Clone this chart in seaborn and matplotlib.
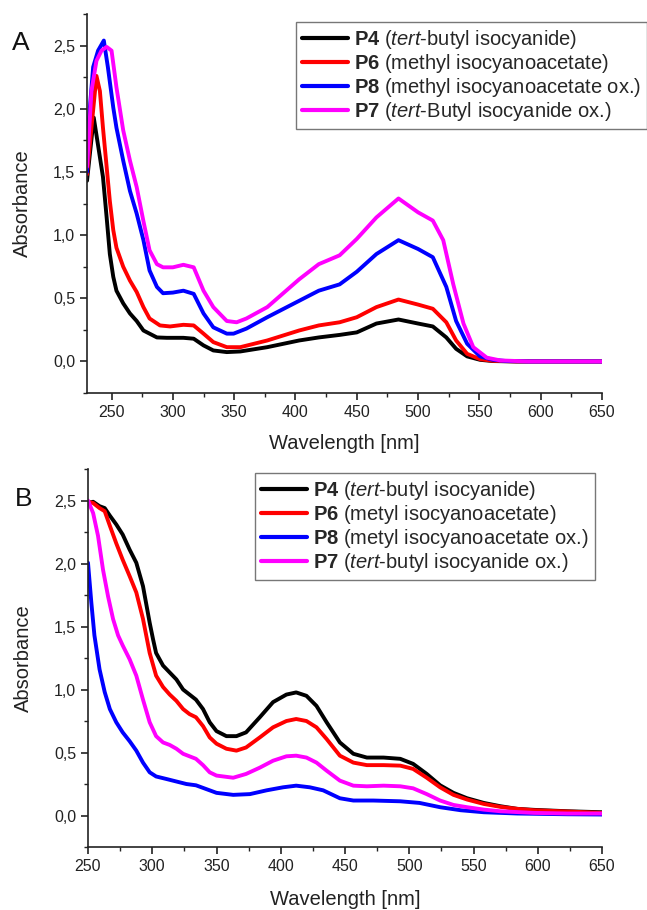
import numpy as np
import pandas as pd
import matplotlib
matplotlib.use("Agg")
import matplotlib.pyplot as plt
from matplotlib.ticker import FuncFormatter, MultipleLocator
import seaborn as sns

# ---------------- Panel A data ----------------
a_p4_x = [230, 235.5, 243, 246, 248.6, 251.4, 254, 259.5, 265, 270.5, 276, 281, 287, 295, 308.6, 317, 325, 333, 344, 355, 377, 403, 419, 436, 450, 466, 484, 500, 512, 523, 531, 540, 550.5, 561, 580, 650]
a_p4_y = [1.43, 1.93, 1.46, 1.14, 0.85, 0.67, 0.56, 0.46, 0.38, 0.32, 0.245, 0.22, 0.19, 0.187, 0.187, 0.18, 0.127, 0.087, 0.074, 0.079, 0.113, 0.166, 0.19, 0.21, 0.23, 0.30, 0.332, 0.30, 0.277, 0.19, 0.10, 0.04, 0.013, 0.003, 0.0, 0.0]

a_p6_x = [230, 233.6, 237.7, 240.5, 243, 246, 248.6, 251.4, 254, 259.5, 265, 270.5, 276, 281, 289.5, 297.7, 308.6, 317, 325, 333, 344, 355, 377, 403, 419, 436, 450, 466, 484, 500, 512, 523, 531, 540, 550.5, 561, 580, 650]
a_p6_y = [1.48, 1.85, 2.26, 2.14, 1.85, 1.54, 1.27, 1.04, 0.90, 0.75, 0.64, 0.55, 0.43, 0.34, 0.285, 0.277, 0.29, 0.285, 0.22, 0.153, 0.113, 0.113, 0.166, 0.245, 0.285, 0.31, 0.35, 0.43, 0.49, 0.45, 0.417, 0.31, 0.166, 0.06, 0.018, 0.005, 0.0, 0.0]

a_p8_x = [230, 231, 235, 239, 243.7, 247, 251.4, 254, 259.5, 265, 270.5, 276, 281, 287, 292, 300, 308.6, 317, 325, 333, 344, 349.5, 360, 377, 403, 419, 436, 450, 466, 484, 500, 512, 523, 531, 540, 550.5, 561, 572, 590, 650]
a_p8_y = [1.50, 1.85, 2.33, 2.46, 2.54, 2.33, 2.01, 1.85, 1.59, 1.35, 1.17, 0.96, 0.72, 0.59, 0.54, 0.545, 0.56, 0.535, 0.38, 0.27, 0.22, 0.22, 0.26, 0.35, 0.48, 0.56, 0.61, 0.71, 0.85, 0.96, 0.89, 0.825, 0.59, 0.32, 0.14, 0.04, 0.013, 0.003, 0.0, 0.0]

a_p7_x = [230, 233.6, 237.7, 241.8, 246, 250, 254, 259.5, 265, 270.5, 276, 281, 287, 292, 300, 308.6, 317, 325, 333, 344, 352, 360, 377, 403, 419, 436, 450, 466, 484, 500, 512, 520.5, 528.7, 537, 545, 556, 567, 590, 650]
a_p7_y = [1.54, 2.14, 2.38, 2.46, 2.49, 2.46, 2.17, 1.83, 1.59, 1.38, 1.11, 0.88, 0.77, 0.745, 0.745, 0.765, 0.745, 0.56, 0.43, 0.32, 0.31, 0.34, 0.43, 0.65, 0.77, 0.84, 0.97, 1.14, 1.29, 1.18, 1.115, 0.96, 0.61, 0.30, 0.113, 0.03, 0.008, 0.0, 0.0]

# ---------------- Panel B data ----------------
b_p4_x = [250, 254, 259, 263, 267, 272, 277, 282.4, 287.6, 292.8, 298, 300.6, 303, 308.4, 313.6, 318.8, 324, 329, 334, 339.5, 344.7, 350, 357.7, 365.5, 373, 383.7, 394, 404.4, 412, 420, 427.8, 435.7, 446, 456.5, 467, 480, 493, 503, 513.6, 524, 534.4, 545, 558, 570.8, 584, 597, 623, 650]
b_p4_y = [2.48, 2.49, 2.455, 2.44, 2.38, 2.31, 2.23, 2.11, 2.006, 1.82, 1.53, 1.40, 1.29, 1.19, 1.135, 1.08, 1.0, 0.96, 0.92, 0.845, 0.74, 0.67, 0.63, 0.63, 0.66, 0.78, 0.90, 0.96, 0.977, 0.95, 0.87, 0.74, 0.58, 0.49, 0.46, 0.46, 0.45, 0.41, 0.33, 0.24, 0.18, 0.137, 0.10, 0.074, 0.053, 0.045, 0.034, 0.026]

b_p6_x = [250, 254, 259, 263, 267, 272, 277, 282.4, 287.6, 292.8, 298, 303, 308.4, 313.6, 318.8, 324, 329, 334, 339.5, 344.7, 350, 357.7, 365.5, 373, 383.7, 394, 404.4, 412, 420, 427.8, 435.7, 446, 456.5, 467, 480, 493, 503, 513.6, 524, 534.4, 545, 558, 570.8, 584, 597, 623, 650]
b_p6_y = [2.49, 2.48, 2.44, 2.415, 2.30, 2.16, 2.03, 1.90, 1.77, 1.56, 1.29, 1.11, 1.02, 0.96, 0.91, 0.845, 0.805, 0.78, 0.71, 0.62, 0.57, 0.53, 0.515, 0.54, 0.62, 0.70, 0.75, 0.766, 0.75, 0.70, 0.607, 0.475, 0.42, 0.40, 0.40, 0.396, 0.37, 0.30, 0.224, 0.164, 0.127, 0.092, 0.069, 0.053, 0.042, 0.032, 0.021]

b_p8_x = [250, 252.6, 255, 259, 263, 267, 272, 277, 282.4, 287.6, 292.8, 298, 303, 311, 318.8, 326.6, 334, 342, 350, 363, 376, 389, 401.8, 412, 422.6, 433, 446, 456.5, 472, 493, 508, 524, 540, 558, 584, 623, 650]
b_p8_y = [2.006, 1.69, 1.43, 1.16, 0.98, 0.845, 0.74, 0.66, 0.59, 0.515, 0.42, 0.343, 0.31, 0.29, 0.27, 0.25, 0.24, 0.21, 0.18, 0.164, 0.17, 0.20, 0.224, 0.237, 0.224, 0.20, 0.137, 0.119, 0.119, 0.113, 0.10, 0.066, 0.042, 0.026, 0.016, 0.01, 0.008]

b_p7_x = [250, 254, 257.8, 261.7, 265.6, 269.5, 273.4, 277, 282.4, 287.6, 292.8, 298, 303, 308.4, 313.6, 318.8, 324, 329, 334, 339.5, 344.7, 350, 363, 373, 383.7, 394, 404.4, 412, 420, 427.8, 435.7, 446, 456.5, 467, 480, 493, 503, 513.6, 524, 534.4, 545, 558, 570.8, 597, 623, 650]
b_p7_y = [2.50, 2.40, 2.22, 1.95, 1.74, 1.56, 1.43, 1.35, 1.24, 1.11, 0.92, 0.74, 0.63, 0.58, 0.56, 0.53, 0.49, 0.47, 0.45, 0.40, 0.343, 0.317, 0.30, 0.33, 0.38, 0.435, 0.47, 0.475, 0.46, 0.42, 0.356, 0.277, 0.237, 0.232, 0.237, 0.232, 0.216, 0.17, 0.119, 0.084, 0.066, 0.047, 0.034, 0.021, 0.016, 0.016]

series_keys = ["P4", "P6", "P8", "P7"]
colors = {"P4": "#000000", "P6": "#ff0000", "P8": "#0000ff", "P7": "#ff00ff"}

labels_a = [r"$\mathbf{P4}$ ($\mathit{tert}$-butyl isocyanide)",
            r"$\mathbf{P6}$ (methyl isocyanoacetate)",
            r"$\mathbf{P8}$ (methyl isocyanoacetate ox.)",
            r"$\mathbf{P7}$ ($\mathit{tert}$-Butyl isocyanide ox.)"]
labels_b = [r"$\mathbf{P4}$ ($\mathit{tert}$-butyl isocyanide)",
            r"$\mathbf{P6}$ (metyl isocyanoacetate)",
            r"$\mathbf{P8}$ (metyl isocyanoacetate ox.)",
            r"$\mathbf{P7}$ ($\mathit{tert}$-butyl isocyanide ox.)"]

def make_df(xs, ys):
    frames = []
    for k, x, y in zip(series_keys, xs, ys):
        frames.append(pd.DataFrame({"wl": x, "abs": y, "s": k}))
    return pd.concat(frames, ignore_index=True)

df_a = make_df([a_p4_x, a_p6_x, a_p8_x, a_p7_x], [a_p4_y, a_p6_y, a_p8_y, a_p7_y])
df_b = make_df([b_p4_x, b_p6_x, b_p8_x, b_p7_x], [b_p4_y, b_p6_y, b_p8_y, b_p7_y])

sns.set_theme(style="ticks")
plt.rcParams["font.family"] = ["Liberation Sans", "DejaVu Sans"]
plt.rcParams["mathtext.fontset"] = "custom"
plt.rcParams["mathtext.rm"] = "Liberation Sans"
plt.rcParams["mathtext.bf"] = "Liberation Sans:bold"
plt.rcParams["mathtext.it"] = "Liberation Sans:italic"

fig = plt.figure(figsize=(6.47, 9.10), dpi=100)
fig.patch.set_facecolor("white")
ax_a = fig.add_axes([0.1345, 0.5681, 0.7960, 0.4165])
ax_b = fig.add_axes([0.1360, 0.0692, 0.7945, 0.4154])

def style(ax, df, xlim, labels, anchor, xpad):
    sns.lineplot(data=df, x="wl", y="abs", hue="s", hue_order=series_keys,
                 palette=colors, estimator=None, sort=False, lw=2.8, ax=ax)
    ax.set_xlim(*xlim)
    ax.set_ylim(-0.25, 2.75)
    for s in ["top", "right"]:
        ax.spines[s].set_visible(False)
    for s in ["left", "bottom"]:
        ax.spines[s].set_linewidth(1.2)
        ax.spines[s].set_color("#222222")
    ax.xaxis.set_major_locator(MultipleLocator(50))
    ax.xaxis.set_minor_locator(MultipleLocator(25))
    ax.yaxis.set_major_locator(MultipleLocator(0.5))
    ax.yaxis.set_minor_locator(MultipleLocator(0.25))
    ax.yaxis.set_major_formatter(FuncFormatter(lambda v, p: f"{v:.1f}".replace(".", ",")))
    ax.xaxis.set_major_formatter(FuncFormatter(lambda v, p: f"{v:.0f}"))
    ax.tick_params(which="major", direction="out", length=5, width=1.2, labelsize=11.5, colors="#222222")
    ax.tick_params(which="minor", direction="out", length=3, width=1.0, colors="#222222")
    ax.set_xlabel("Wavelength [nm]", fontsize=14.5, color="#222222", labelpad=xpad)
    ax.set_ylabel("Absorbance", fontsize=14.5, color="#222222", labelpad=15)
    ax.set_facecolor("white")
    handles = ax.get_legend_handles_labels()[0]
    if ax.get_legend() is not None:
        ax.get_legend().remove()
    leg = ax.legend(handles[:4], labels, loc="upper left", bbox_to_anchor=anchor,
                    bbox_transform=fig.transFigure, fontsize=14.5, frameon=True,
                    fancybox=False, edgecolor="#555555", borderaxespad=0,
                    borderpad=0.3, handlelength=2.3, handletextpad=0.3,
                    labelspacing=0.05)
    leg.get_frame().set_linewidth(1.0)
    for h in leg.get_lines():
        h.set_linewidth(3)

style(ax_a, df_a, (230, 650), labels_a, (296 / 647, 1 - 22 / 910), 10)
style(ax_b, df_b, (250, 650), labels_b, (255 / 647, 1 - 473 / 910), 11.5)

fig.text(12 / 647, 1 - 43 / 910, "A", fontsize=19, va="center", ha="left", color="#111111")
fig.text(15 / 647, 1 - 499 / 910, "B", fontsize=19, va="center", ha="left", color="#111111")

fig.savefig("out.png", dpi=100, facecolor="white")
